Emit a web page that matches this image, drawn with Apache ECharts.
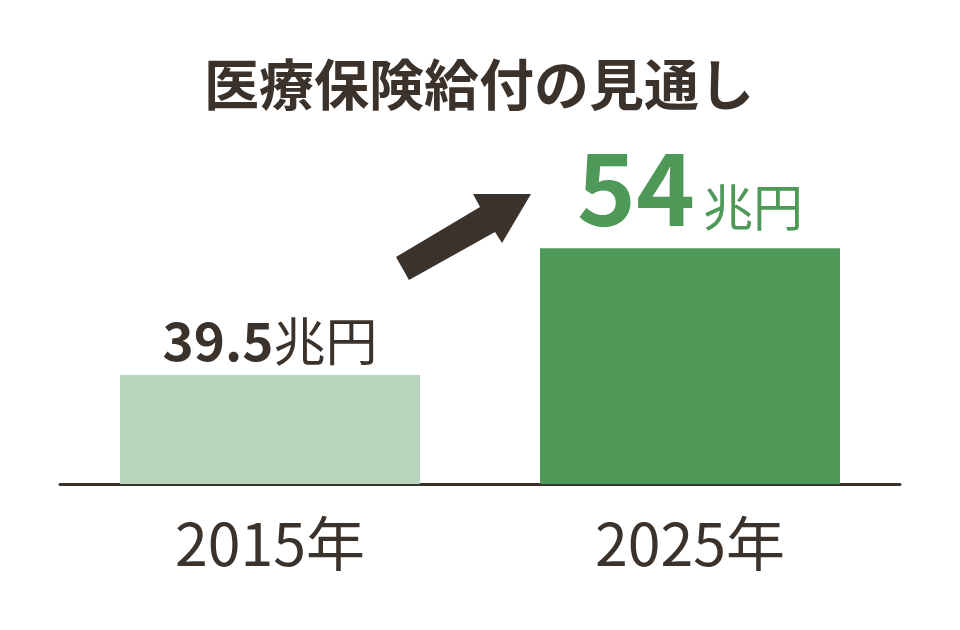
<!DOCTYPE html>
<html>
<head>
<meta charset="utf-8">
<script src="https://cdn.jsdelivr.net/npm/echarts@6/dist/echarts.min.js"></script>
<style>html,body{margin:0;padding:0;background:#fff;}#c{width:960px;height:630px;}</style>
</head>
<body>
<div id="c"></div>
<script>
const categories = ['2015年', '2025年'];
const values = [39.5, 54];
const valueLabels = ['39.5', '54'];
const unit = '兆円';
const titleText = '医療保険給付の見通し';

const dark = '#3b322c';
const font = '"Noto Sans CJK JP", "Noto Sans", sans-serif';

const chart = echarts.init(document.getElementById('c'), null, {renderer: 'canvas'});
chart.setOption({
  backgroundColor: '#ffffff',
  animation: false,
  title: {
    text: titleText,
    left: 474, top: 52, textAlign: 'center',
    textStyle: {fontFamily: font, fontSize: 55, fontWeight: 'bold', color: dark}
  },
  grid: {left: 60, right: 60, top: 196, bottom: 146},
  xAxis: {
    type: 'category',
    data: categories,
    axisLine: {lineStyle: {color: dark, width: 3}},
    axisTick: {show: false},
    axisLabel: {fontFamily: font, fontSize: 59, color: dark, margin: 30}
  },
  yAxis: {
    type: 'value', min: 27, max: 60,
    show: false, splitLine: {show: false}
  },
  series: [{
    type: 'bar',
    barWidth: 300,
    data: [
      {
        value: values[0],
        itemStyle: {color: '#b8d4bc'},
        label: {
          show: true, position: 'top', distance: 8,
          formatter: '{n|' + valueLabels[0] + '}{u|' + unit + '}',
          rich: {
            n: {fontFamily: font, fontSize: 53, fontWeight: 'bold', color: dark, verticalAlign: 'bottom', lineHeight: 60},
            u: {fontFamily: font, fontSize: 52, color: dark, verticalAlign: 'bottom', lineHeight: 60}
          }
        }
      },
      {
        value: values[1],
        itemStyle: {color: '#4e9858'},
        label: {
          show: true, position: 'top', distance: 10,
          formatter: '{n|' + valueLabels[1] + '}{u|' + unit + '}',
          rich: {
            n: {fontFamily: font, fontSize: 100, fontWeight: 'bold', color: '#4e9858', verticalAlign: 'bottom', lineHeight: 100},
            u: {fontFamily: font, fontSize: 50, color: '#4e9858', verticalAlign: 'bottom', lineHeight: 100, padding: [0, 0, 6, 8]}
          }
        }
      }
    ]
  }],
  graphic: [{
    type: 'polygon',
    shape: {points: [[531,194],[473,194],[480,207],[396,257],[409,280],[495,232],[502,243]]},
    style: {fill: dark}
  }]
});
</script>
</body>
</html>
